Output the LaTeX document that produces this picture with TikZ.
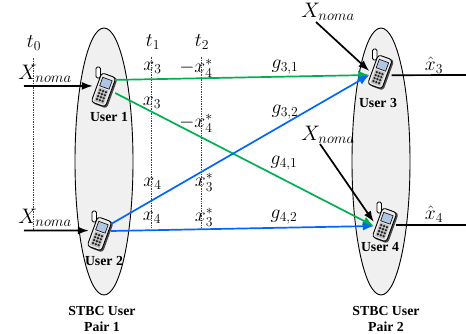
\documentclass[tikz,border=0pt]{standalone}
\usepackage{fix-cm}
\usepackage{fontspec}
\newfontfamily\userfont{Liberation Serif}
\usetikzlibrary{arrows.meta,shapes.geometric}

\definecolor{linkgreen}{RGB}{0,176,80}
\definecolor{linkblue}{RGB}{0,102,255}
\definecolor{pairgray}{RGB}{240,240,240}
\definecolor{phonescreen}{RGB}{176,198,226}

\tikzset{
  pairshape/.style={draw=black,line width=0.9pt,fill=pairgray,ellipse,minimum width=58pt,minimum height=267pt,inner sep=0pt},
  phonebox/.style={minimum width=22pt,minimum height=36pt,inner sep=0pt},
  sym/.style={inner sep=0pt,font=\fontsize{19.5}{22}\selectfont},
  noma/.style={inner sep=0pt,font=\fontsize{21}{24}\selectfont},
  userlabel/.style={inner sep=0pt,font=\userfont\fontsize{13.8}{16}\selectfont\bfseries,align=center},
  feed/.style={-{Latex[length=11pt,width=8pt]},line width=1.7pt,black},
  slot/.style={densely dotted,line width=0.7pt,black!75},
  linkg/.style={-{Latex[length=11pt,width=9pt]},line width=1.7pt,linkgreen},
  linkb/.style={-{Latex[length=11pt,width=9pt]},line width=1.7pt,linkblue},
}

% handset drawn round the centre of its box
\newcommand{\phoneicon}[2]{
\begin{scope}[shift={(#1,#2)}]
\draw[fill=white,line width=0.9pt,rounded corners=1.5pt] (-8,12) rectangle (-3.5,23);
\begin{scope}[rotate=-20]
\fill[black!70,rounded corners=3pt] (-6,-16.5) rectangle (9,15.5);
\draw[fill=black!8,line width=0.9pt,rounded corners=3pt] (-8,-15.5) rectangle (7,15.5);
\draw[fill=phonescreen,line width=0.6pt] (-5.5,2.5) rectangle (4.5,11.5);
\fill[black!25] (-5.5,-13.5) rectangle (4.5,1);
\foreach \i in {0,1,2}
  \foreach \j in {0,1,2,3}
    \fill[black!85] (-3.5+\i*3,-11+\j*3.2) circle (1.3pt);
\end{scope}
\end{scope}
}

\begin{document}
\begin{tikzpicture}[x=1pt,y=1pt]
\useasboundingbox (0,0) rectangle (466,333);

\node[pairshape] (pair1) at (104,171.5) {};
\node[pairshape] (pair2) at (381,171.5) {};

% time slots
\node[sym] (t0) at (34,290) {$t_0$};
\node[sym] (t1) at (153,291) {$t_1$};
\node[sym] (t2) at (202,291) {$t_2$};
\coordinate (t0end) at (33.5,103);
\coordinate (t1end) at (151,105);
\coordinate (t2end) at (201,105);
\draw[slot,shorten <=7pt] (t0.south -| t0end) -- (t0end);
\draw[slot,shorten <=7pt] (t1.south -| t1end) -- (t1end);
\draw[slot,shorten <=7pt] (t2.south -| t2end) -- (t2end);

\phoneicon{104}{243}
\phoneicon{100}{99}
\phoneicon{380.5}{261}
\phoneicon{385}{108}
\node[phonebox] (user1) at (104,243) {};
\node[phonebox] (user2) at (100,99) {};
\node[phonebox] (user3) at (380.5,261) {};
\node[phonebox] (user4) at (385,108) {};

\node[userlabel] (name1) at (109,216) {User 1};
\node[userlabel] (name2) at (104,72) {User 2};
\node[userlabel] (name3) at (378,230) {User 3};
\node[userlabel] (name4) at (380,86) {User 4};
\node[userlabel] (caption1) at (102,14) {STBC User\\Pair 1};
\node[userlabel] (caption2) at (386,14) {STBC User\\Pair 2};

% inputs
\node[noma] (in1) at (45,259) {$X_{noma}$};
\node[noma] (in2) at (45,115) {$X_{noma}$};
\node[noma] (in3) at (328,321) {$X_{noma}$};
\node[noma] (in4) at (328,198) {$X_{noma}$};
\coordinate (start1) at (24,247);
\coordinate (start2) at (24,102.5);
\coordinate (from3) at (316,311);
\coordinate (from4) at (320,189);
\draw[feed] (start1) -- (user1.160);
\draw[feed] (start2) -- (user2.163);
\draw[feed] (from3) -- (user3.175);
\draw[feed] (from4) -- (user4.165);

% outputs
\coordinate (stop3) at (466,258);
\coordinate (stop4) at (466,108);
\draw[line width=1.7pt] (user3.-16) -- (stop3);
\draw[line width=1.7pt] (user4.east) -- (stop4);
\node[sym] (hat3) at (434,268) {$\hat{x}_3$};
\node[sym] (hat4) at (434,119) {$\hat{x}_4$};

% links
\draw[linkg] (user1.42) -- (user3.195);
\draw[linkg] (user1.-15) -- (user4.185);
\draw[linkb] (user2.42) -- (user3.195);
\draw[linkb] (user2.15) -- (user4.185);

\node[sym] (g31) at (285,266) {$g_{3,1}$};
\node[sym] (g32) at (285,221) {$g_{3,2}$};
\node[sym] (g41) at (284,170) {$g_{4,1}$};
\node[sym] (g42) at (284,116) {$g_{4,2}$};

% code symbols
\node[sym] (a1) at (152.5,265) {$x_3$};
\node[sym] (a2) at (196,264.5) {$-x_4^*$};
\node[sym] (a3) at (152,230) {$x_3$};
\node[sym] (a4) at (196,210) {$-x_4^*$};
\node[sym] (a5) at (152.5,149) {$x_4$};
\node[sym] (a6) at (204,151) {$x_3^*$};
\node[sym] (a7) at (152,115) {$x_4$};
\node[sym] (a8) at (204,116) {$x_3^*$};
\end{tikzpicture}
\end{document}
